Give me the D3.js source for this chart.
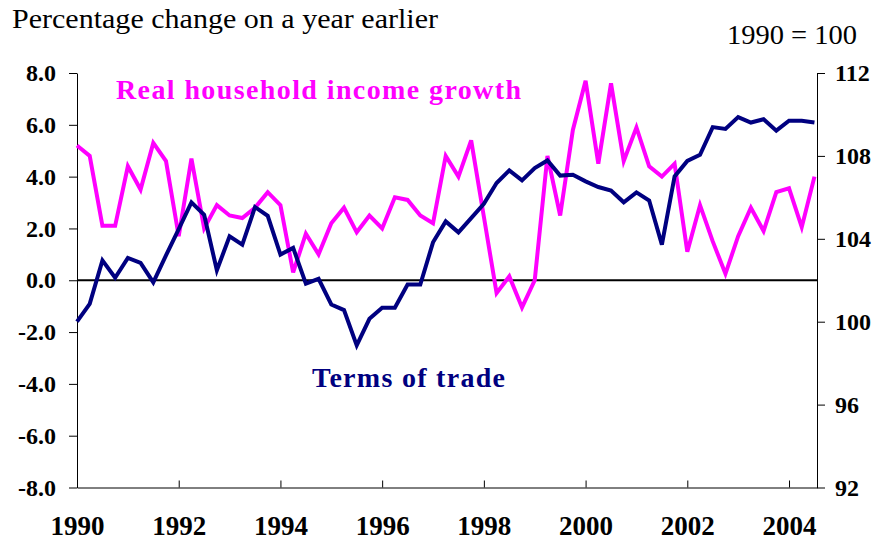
<!DOCTYPE html>
<!-- load the d3.js library -->
<script src="https://cdn.jsdelivr.net/npm/d3@7"></script>
<style>
body { margin: 0; background: #fff; }
svg text { font-family: "Liberation Serif", "Times New Roman", Times, serif; }
.axis path, .axis line { stroke: #000; stroke-width: 1px; }
.axis text { font-weight: bold; font-size: 24px; fill: #000; }
</style>
<html>
<body>
<div id="svgcontainer">
<script>
  // quarterly data, 1990 Q1 to 2004 Q3
  var yearLabels = ["1990", "1992", "1994", "1996", "1998", "2000", "2002", "2004"];
  var yearTickIdx = [0, 8, 16, 24, 32, 40, 48, 56];

  // real household income growth, % change on a year earlier (left axis)
  var income = [5.2, 4.8, 2.1, 2.1, 4.4, 3.5, 5.3, 4.6, 1.7, 4.7,
                2.0, 2.9, 2.5, 2.4, 2.8, 3.4, 2.9, 0.3, 1.8, 1.0,
                2.2, 2.8, 1.85, 2.5, 2.0, 3.2, 3.1, 2.5, 2.2, 4.8,
                4.0, 5.4, 2.45, -0.5, 0.15, -1.05, 0.0, 4.8, 2.5, 5.8,
                7.7, 4.5, 7.6, 4.6, 5.9, 4.4, 4.0, 4.5, 1.1, 2.9,
                1.5, 0.25, 1.7, 2.8, 1.9, 3.4, 3.55, 2.05, 4.0];

  // terms of trade, 1990 = 100 (right axis)
  var termsOfTrade = [100.0, 100.86, 102.96, 102.12, 103.08, 102.84, 101.9, 103.2, 104.47, 105.76,
                      105.16, 102.48, 104.12, 103.72, 105.53, 105.11, 103.24, 103.56, 101.84, 102.07,
                      100.83, 100.56, 98.86, 100.14, 100.67, 100.67, 101.79, 101.79, 103.83, 104.84,
                      104.31, 105.0, 105.69, 106.69, 107.3, 106.82, 107.41, 107.78, 107.05, 107.09,
                      106.77, 106.5, 106.33, 105.76, 106.24, 105.85, 103.72, 107.01, 107.76, 108.05,
                      109.39, 109.3, 109.87, 109.61, 109.77, 109.22, 109.7, 109.7, 109.61];

  var leftTicks = [-8, -6, -4, -2, 0, 2, 4, 6, 8];
  var rightTicks = [92, 96, 100, 104, 108, 112];

  var width = 882;
  var height = 545;
  var svg = d3.select("#svgcontainer")
              .append("svg")
              .attr("width", width)
              .attr("height", height);

  var plotLeft = 77, plotRight = 817, plotTop = 73, plotBottom = 487.5;

  var x = d3.scaleLinear().domain([0, 58.2]).range([plotLeft, plotRight]);
  var yL = d3.scaleLinear().domain([-8, 8]).range([plotBottom, plotTop]);
  var yR = d3.scaleLinear().domain([92, 112]).range([plotBottom, plotTop]);

  // left axis
  svg.append("g")
     .attr("class", "axis")
     .attr("transform", "translate(" + plotLeft + ",0)")
     .call(d3.axisLeft(yL).tickValues(leftTicks).tickSize(8).tickSizeOuter(0).tickPadding(13)
             .tickFormat(function(d) { return d.toFixed(1); }));

  // right axis
  svg.append("g")
     .attr("class", "axis")
     .attr("transform", "translate(" + plotRight + ",0)")
     .call(d3.axisRight(yR).tickValues(rightTicks).tickSize(8).tickSizeOuter(0).tickPadding(10)
             .tickFormat(function(d) { return d; }));

  // bottom axis, ticks pointing inward
  var xAxis = svg.append("g")
     .attr("class", "axis")
     .attr("transform", "translate(0," + plotBottom + ")")
     .call(d3.axisBottom(x).tickValues(yearTickIdx).tickSize(-7).tickSizeOuter(0)
             .tickFormat(function(d, i) { return yearLabels[i]; }));
  xAxis.selectAll("text")
       .attr("y", 28)
       .style("font-size", "27px");
  svg.selectAll(".axis path").attr("stroke-width", 1.2);

  // zero line
  svg.append("line")
     .attr("x1", plotLeft).attr("x2", plotRight)
     .attr("y1", yL(0)).attr("y2", yL(0))
     .attr("stroke", "#000")
     .attr("stroke-width", 2);

  var incomeLine = d3.line()
                     .x(function(d, i) { return x(i); })
                     .y(function(d) { return yL(d); });
  var totLine = d3.line()
                  .x(function(d, i) { return x(i); })
                  .y(function(d) { return yR(d); });

  svg.append("path")
     .datum(income)
     .attr("d", incomeLine)
     .attr("fill", "none")
     .attr("stroke", "#ff00ff")
     .attr("stroke-width", 4)
     .attr("stroke-linejoin", "miter");

  svg.append("path")
     .datum(termsOfTrade)
     .attr("d", totLine)
     .attr("fill", "none")
     .attr("stroke", "#000080")
     .attr("stroke-width", 4)
     .attr("stroke-linejoin", "miter");

  // titles and series labels
  svg.append("text")
     .attr("x", 12).attr("y", 28)
     .attr("textLength", 426)
     .attr("lengthAdjust", "spacingAndGlyphs")
     .style("font-size", "28px")
     .text("Percentage change on a year earlier");

  svg.append("text")
     .attr("x", 727).attr("y", 44)
     .attr("textLength", 130)
     .attr("lengthAdjust", "spacingAndGlyphs")
     .style("font-size", "27px")
     .text("1990 = 100");

  svg.append("text")
     .attr("x", 116).attr("y", 99)
     .attr("textLength", 405)
     .attr("lengthAdjust", "spacing")
     .style("font-size", "28px")
     .style("font-weight", "bold")
     .attr("fill", "#ff00ff")
     .text("Real household income growth");

  svg.append("text")
     .attr("x", 312).attr("y", 387)
     .attr("textLength", 193)
     .attr("lengthAdjust", "spacing")
     .style("font-size", "28px")
     .style("font-weight", "bold")
     .attr("fill", "#000080")
     .text("Terms of trade");
</script>
</div>
</body>
</html>
